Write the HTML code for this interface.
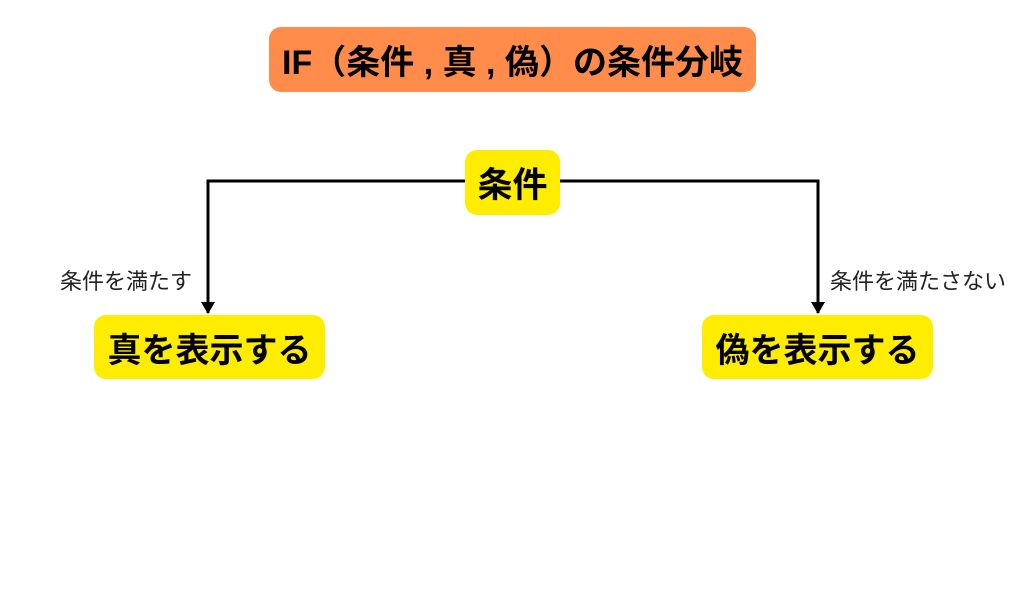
<!DOCTYPE html>
<html><head><meta charset="utf-8"><style>
body{margin:0;width:1024px;height:597px;background:#fff;position:relative;overflow:hidden;font-family:"Liberation Sans","Noto Sans CJK JP",sans-serif}
.b{position:absolute;display:flex;align-items:center;justify-content:center;font-weight:bold;color:#000;border-radius:12px}
.l{position:absolute;font-size:22px;line-height:26px;color:#222;white-space:nowrap}
</style></head><body>
<div class="b" style="left:269px;top:27px;width:487px;height:65px;background:#FF8C4A;font-size:34px;white-space:nowrap">IF（条件 , 真 , 偽）の条件分岐</div>
<svg width="1024" height="597" style="position:absolute;left:0;top:0">
<polyline points="208,313 208,181 818,181 818,313" fill="none" stroke="#000" stroke-width="3"/>
<polygon points="201,302 215,302 208,314" fill="#000"/>
<polygon points="811,302 825,302 818,314" fill="#000"/>
</svg>
<div class="b" style="left:465px;top:150px;width:95px;height:65px;background:#FFED00;font-size:35px">条件</div>
<div class="b" style="left:94px;top:315px;width:231px;height:64px;background:#FFED00;font-size:34px">真を表示する</div>
<div class="b" style="left:702px;top:315px;width:231px;height:64px;background:#FFED00;font-size:34px">偽を表示する</div>
<div class="l" style="left:60px;top:269px">条件を満たす</div>
<div class="l" style="left:830px;top:269px">条件を満たさない</div>
</body></html>
